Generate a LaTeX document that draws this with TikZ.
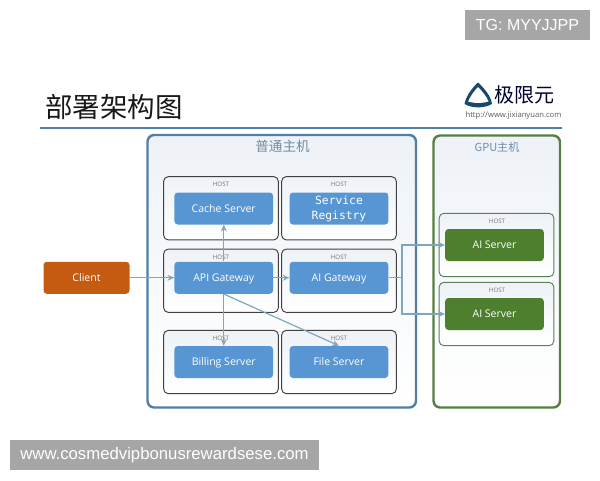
\documentclass[tikz,border=0pt]{standalone}
\usepackage{fontspec}
\setmainfont{Open Sans}
\newfontfamily\cjk{Noto Sans CJK SC}
\newfontfamily\wmfont{Liberation Sans}
\newfontfamily\regfont{DejaVu Sans Mono}
\usetikzlibrary{arrows.meta}

\definecolor{panelblue}{HTML}{4F7FA8}
\definecolor{panelgreen}{HTML}{55803F}
\definecolor{paneltop}{HTML}{EEF2F7}
\definecolor{titlegrey}{HTML}{6F8CA6}
\definecolor{serverblue}{HTML}{5796D3}
\definecolor{servergreen}{HTML}{4E7F2E}
\definecolor{clientorange}{HTML}{C55A11}
\definecolor{linkblue}{HTML}{7FA6BC}
\definecolor{logoblue}{HTML}{17496B}

\tikzset{
    panel/.style={draw,line width=1.8pt,rounded corners=5pt,top color=paneltop,bottom color=white},
    hostbox/.style={draw=black!75,line width=0.7pt,rounded corners=3.5pt,minimum width=86pt,minimum height=47.5pt,inner sep=0pt,top color=paneltop,bottom color=white},
    gpubox/.style={hostbox,draw=black!50!green!30!gray},
    server/.style={rounded corners=2.5pt,minimum width=74pt,minimum height=24pt,inner sep=0pt,text=white,font=\fontsize{7.9}{9}\selectfont,align=center,text height=6.6pt,text depth=1pt},
    bluesrv/.style={server,fill=serverblue},
    greensrv/.style={server,fill=servergreen},
    hostlabel/.style={inner sep=0pt,text=black!55,font=\fontsize{4.6}{5}\selectfont},
    link/.style={draw=linkblue,line width=0.9pt,-{Stealth[length=5pt,width=4.5pt]}},
    wmark/.style={text=white,inner sep=0pt,font=\wmfont\fontsize{12}{14}\selectfont}
}

\begin{document}
\begin{tikzpicture}[x=0.75pt,y=0.75pt,yscale=-1,xscale=1]
    \useasboundingbox (0,0) rectangle (600,480);

    %Title
    \draw (114,107) node [inner sep=0pt,font=\cjk\fontsize{20.6}{24}\selectfont,text=black!90] (title) {部署架构图};
    \draw [panelblue,line width=1.5pt] (40,127.5) -- (562,127.5);

    %Logo
    \draw [draw=none,fill=logoblue] (478,82.5) .. controls (484,88) and (491,96) .. (492,104) .. controls (484,108.5) and (472,108.5) .. (464.5,104) .. controls (466,96) and (472,88) .. (478,82.5) -- cycle ;
    \draw [draw=none,fill=white] (478,87) .. controls (482,91) and (487,97) .. (488.5,101.5) .. controls (482,103.5) and (474,103.5) .. (468,101.5) .. controls (470,97) and (474,91) .. (478,87) -- cycle ;
    \draw (524,95) node [inner sep=0pt,font=\cjk\fontsize{15}{16}\selectfont,text=black!80!blue] (logotext) {极限元};
    \draw (513.5,115.5) node [inner sep=0pt,font=\fontsize{5.75}{7}\selectfont,text=black!65] (logourl) {http://www.jixianyuan.com};

    %Panels
    \draw [panel,draw=panelblue] (147.5,135) rectangle (416,407.5);
    \draw [panel,draw=panelgreen] (433.5,135.5) rectangle (560,407.5);
    \draw (282.5,146) node [inner sep=0pt,font=\cjk\fontsize{10.2}{12}\selectfont,text=titlegrey] (ptitle) {普通主机};
    \draw (497,147) node [inner sep=0pt,font=\fontsize{8.3}{10}\cjk\selectfont,text=titlegrey] (gtitle) {GPU主机};

    %Host boxes
    \draw (221,208.25) node [hostbox] (hcache) {};
    \draw (339,208.25) node [hostbox] (hreg) {};
    \draw (221,280.75) node [hostbox] (hapi) {};
    \draw (339,280.75) node [hostbox] (hgw) {};
    \draw (221,362) node [hostbox] (hbill) {};
    \draw (339,362) node [hostbox] (hfile) {};
    \draw (496.5,245) node [gpubox] (hai1) {};
    \draw (496.5,314) node [gpubox] (hai2) {};

    %Host labels
    \draw (221,184.5) node [hostlabel] (lcache) {HOST};
    \draw (339,184.5) node [hostlabel] (lreg) {HOST};
    \draw (221,257) node [hostlabel] (lapi) {HOST};
    \draw (339,257) node [hostlabel] (lgw) {HOST};
    \draw (221,338) node [hostlabel] (lbill) {HOST};
    \draw (339,338) node [hostlabel] (lfile) {HOST};
    \draw (497,221) node [hostlabel] (lai1) {HOST};
    \draw (497,290) node [hostlabel] (lai2) {HOST};

    %Servers
    \draw (86.5,277.75) node [server,fill=clientorange,minimum width=64.5pt] (client) {Client};
    \draw (223.75,208.5) node [bluesrv] (cache) {Cache Server};
    \draw (339,208.5) node [bluesrv,text height=,text depth=,font=\regfont\fontsize{8.5}{11.2}\selectfont] (registry) {Service\\Registry};
    \draw (223.75,277.75) node [bluesrv] (api) {API Gateway};
    \draw (339,277.75) node [bluesrv] (aigw) {AI Gateway};
    \draw (223.75,362) node [bluesrv] (billing) {Billing Server};
    \draw (339,362) node [bluesrv] (file) {File Server};
    \draw (494.5,245) node [greensrv] (ai1) {AI Server};
    \draw (494.5,314) node [greensrv] (ai2) {AI Server};

    %Connectors
    \coordinate (split) at (402,277.75);
    \draw [link] (client) -- (api);
    \draw [link] (api) -- (aigw);
    \draw [link] (api) -- (cache);
    \draw [link] (api) -- (billing);
    \draw [link] (api.south) -- (file.north);
    \draw [link] (aigw) -- (split) |- (ai1);
    \draw [link] (split) |- (ai2);

    %Watermarks
    \draw [draw=none,fill=black!35] (465,10) rectangle (590,40);
    \draw (527.5,25) node [wmark] (tg) {TG: MYYJJPP};
    \draw [draw=none,fill=black!35] (10,440) rectangle (319,470);
    \draw (164.5,455) node [wmark,font=\wmfont\fontsize{12.55}{14}\selectfont] (site) {www.cosmedvipbonusrewardsese.com};
\end{tikzpicture}
\end{document}
